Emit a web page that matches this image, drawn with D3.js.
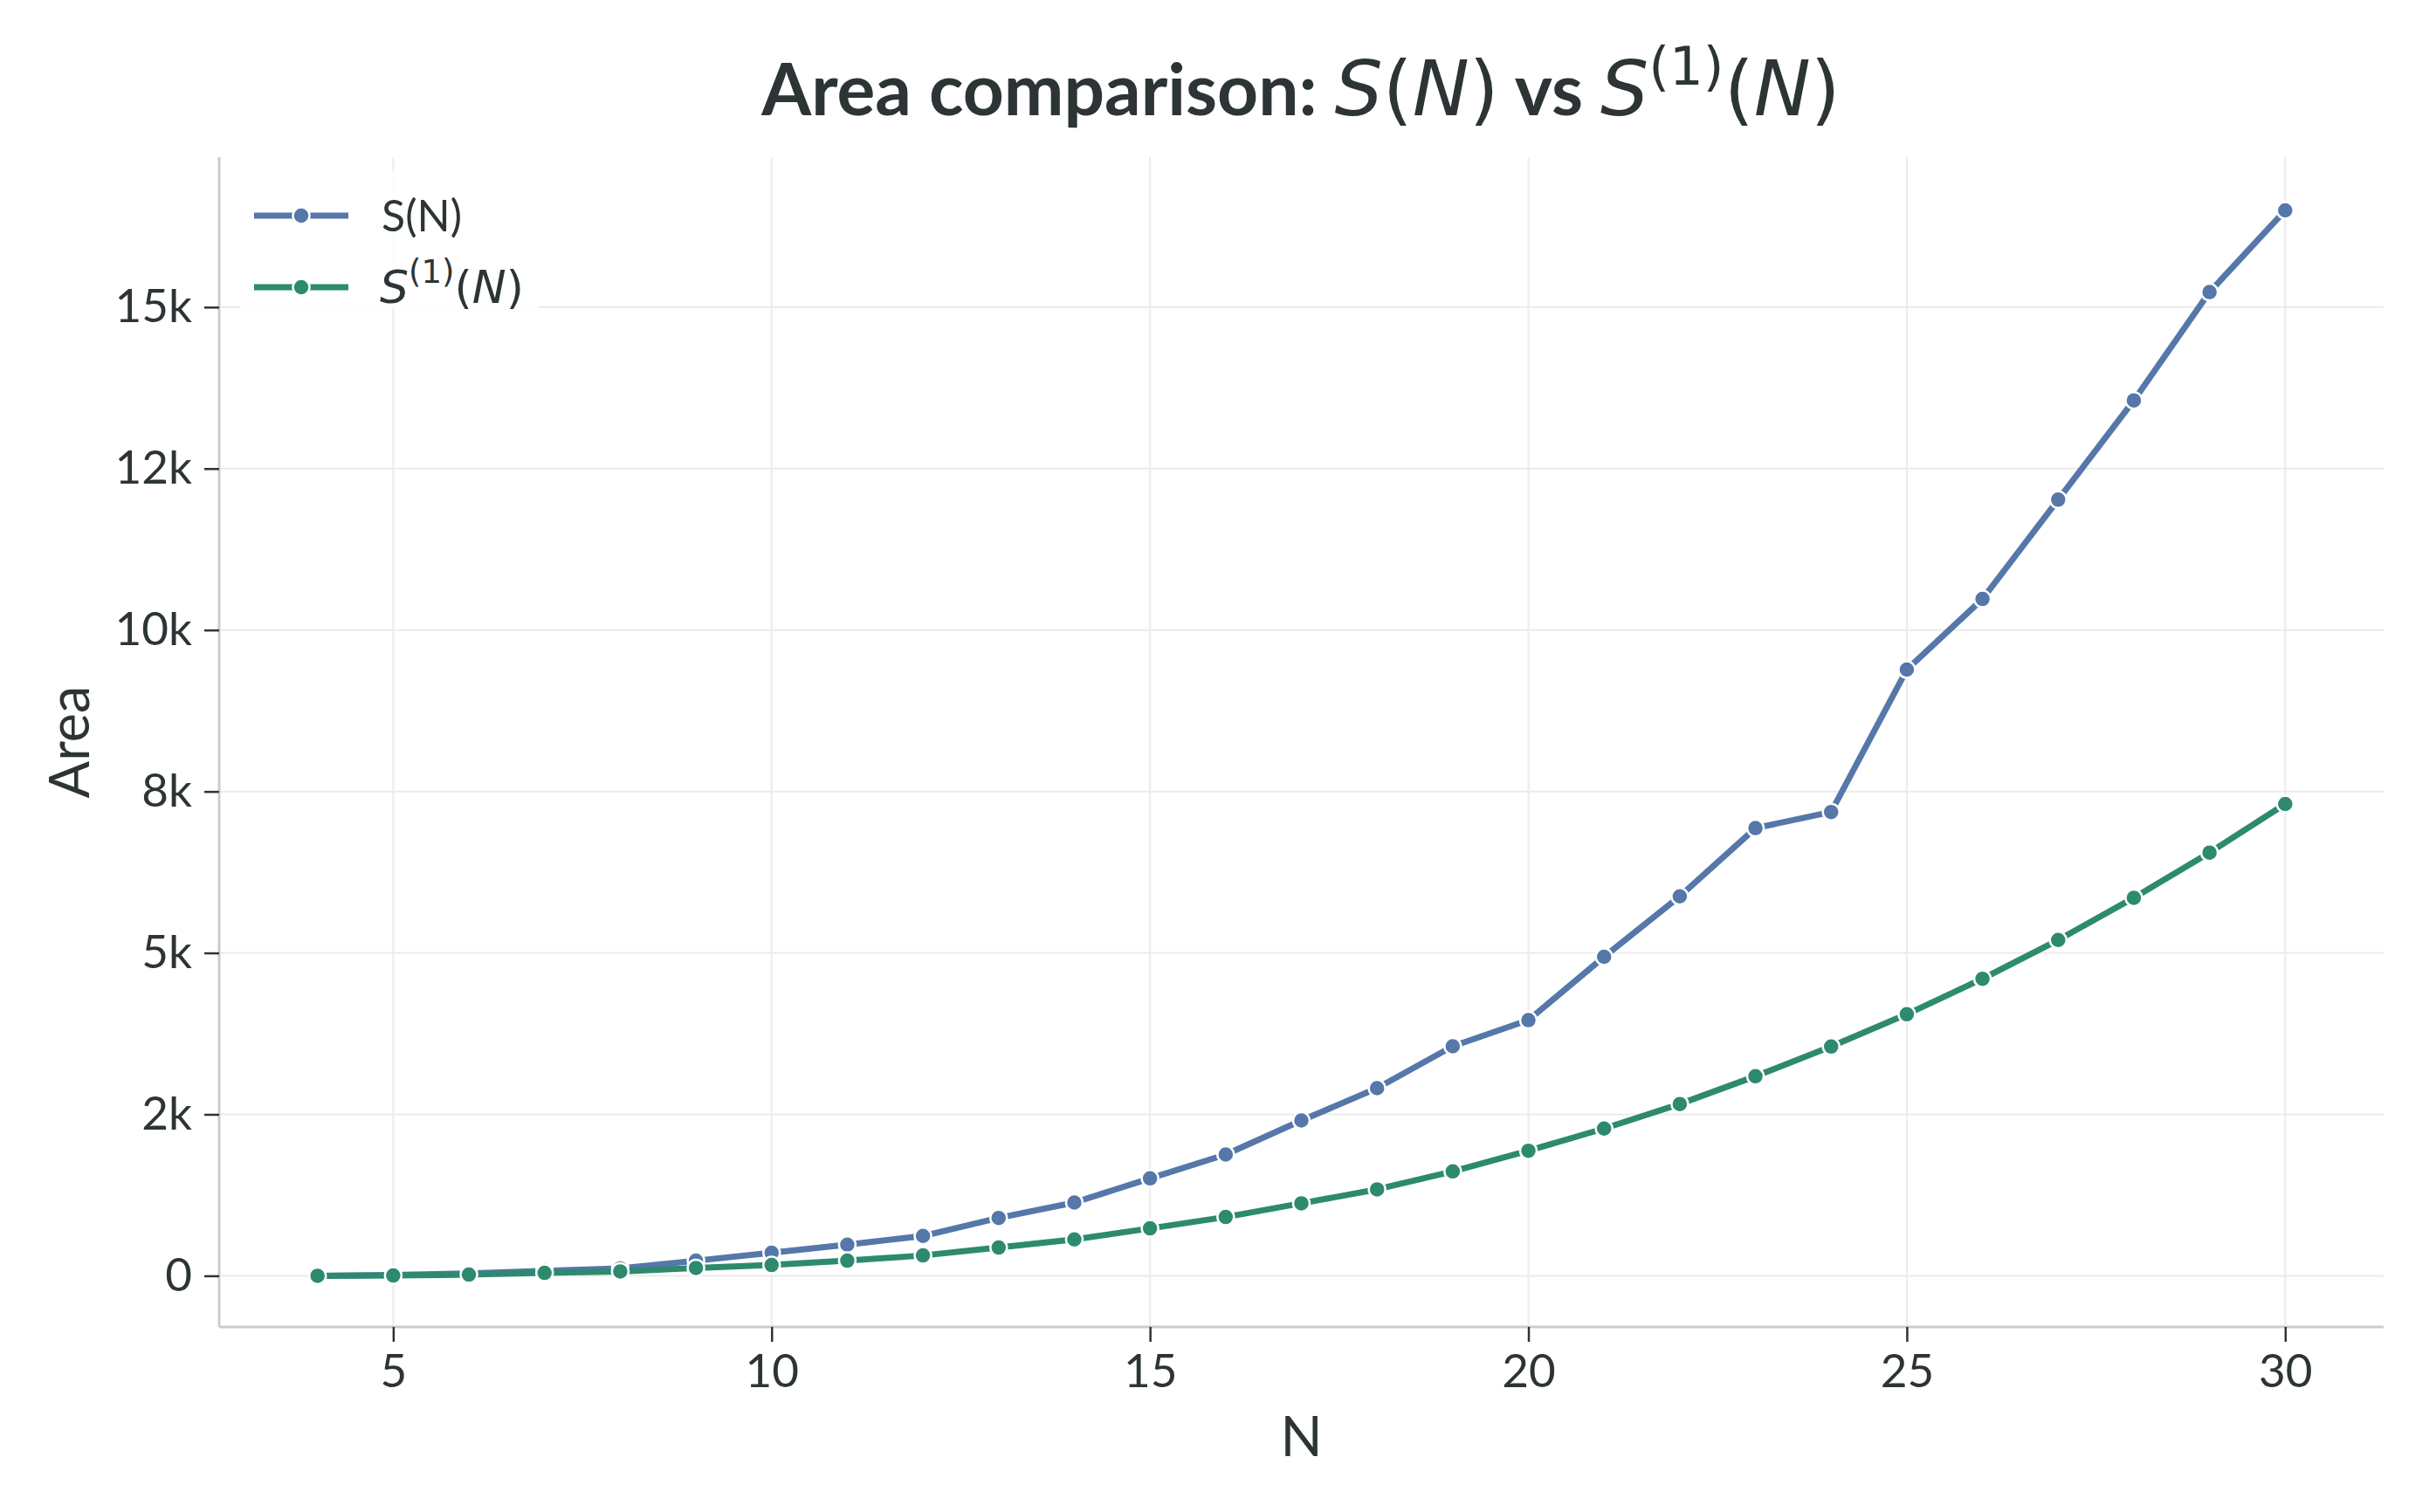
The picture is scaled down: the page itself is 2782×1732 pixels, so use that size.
<!DOCTYPE html>
<html>
<head>
<meta charset="utf-8">
<script src="https://cdn.jsdelivr.net/npm/d3@7"></script>
<style>
  body { margin: 0; background: #fff; }
  text { fill: #2d3436; }
</style>
</head>
<body>
<svg id="chart" width="2782" height="1732"></svg>
<script>
// data
var nValues = [4, 5, 6, 7, 8, 9, 10, 11, 12, 13, 14, 15, 16, 17, 18, 19, 20, 21, 22, 23, 24, 25, 26, 27, 28, 29, 30];
var sValues = [0, 14, 36, 77, 115, 234, 356, 482, 617, 896, 1135, 1509, 1878, 2405, 2905, 3554, 3959, 4940, 5876, 6933, 7182, 9387, 10481, 12019, 13556, 15233, 16498];
var s1Values = [0, 5, 18, 45, 68, 122, 167, 234, 315, 437, 563, 734, 910, 1122, 1338, 1617, 1937, 2280, 2660, 3090, 3550, 4050, 4600, 5200, 5854, 6553, 7306];
var xTicks = [5, 10, 15, 20, 25, 30];
var yTicks = [0, 2500, 5000, 7500, 10000, 12500, 15000];
var yTickLabels = ["0", "2k", "5k", "8k", "10k", "12k", "15k"];

var blue = "#5577a9", green = "#2d8a6e";
var box = {left: 251, right: 2730, top: 180, bottom: 1520};

var svg = d3.select("#chart");

// matplotlib-like 5% margins
var xPad = (d3.max(nValues) - d3.min(nValues)) * 0.05;
var allY = sValues.concat(s1Values);
var yPad = (d3.max(allY) - d3.min(allY)) * 0.05;

var x = d3.scaleLinear()
    .domain([d3.min(nValues) - xPad, d3.max(nValues) + xPad])
    .range([box.left, box.right]);
var y = d3.scaleLinear()
    .domain([d3.min(allY) - yPad * 0.96, d3.max(allY) + yPad])
    .range([box.bottom, box.top]);

// grid
svg.append("g").selectAll("line").data(xTicks).enter().append("line")
    .attr("x1", d => x(d)).attr("x2", d => x(d))
    .attr("y1", box.top).attr("y2", box.bottom)
    .attr("stroke", "#ebebeb").attr("stroke-width", 2);
svg.append("g").selectAll("line").data(yTicks).enter().append("line")
    .attr("x1", box.left).attr("x2", box.right)
    .attr("y1", d => y(d)).attr("y2", d => y(d))
    .attr("stroke", "#ebebeb").attr("stroke-width", 2);

// axes
var xAxis = svg.append("g")
    .attr("transform", "translate(0," + box.bottom + ")")
    .call(d3.axisBottom(x).tickValues(xTicks).tickSize(17).tickPadding(14));
var yAxis = svg.append("g")
    .attr("transform", "translate(" + box.left + ",0)")
    .call(d3.axisLeft(y).tickValues(yTicks).tickSize(17).tickPadding(14)
        .tickFormat((d, i) => yTickLabels[i]));

[xAxis, yAxis].forEach(function(ax) {
    ax.select(".domain").attr("stroke", "#cccccc").attr("stroke-width", 3);
    ax.selectAll(".tick line").attr("stroke", "#2d3436").attr("stroke-width", 2.5);
    ax.selectAll(".tick text")
        .style("font-family", "Lato").style("font-size", "53px").attr("fill", "#2d3436");
});
xAxis.select(".domain").attr("d", "M" + box.left + ",0H" + box.right);
yAxis.select(".domain").attr("d", "M0," + box.top + "V" + box.bottom);

// series
var series = [
    {name: "S", values: sValues, color: blue},
    {name: "S1", values: s1Values, color: green}
];

var line = d3.line()
    .x((d, i) => x(nValues[i]))
    .y(d => y(d));

series.forEach(function(s) {
    svg.append("path")
        .datum(s.values)
        .attr("d", line)
        .attr("fill", "none")
        .attr("stroke", s.color)
        .attr("stroke-width", 7)
        .attr("stroke-linejoin", "round");
    svg.append("g").selectAll("circle").data(s.values).enter().append("circle")
        .attr("cx", (d, i) => x(nValues[i]))
        .attr("cy", d => y(d))
        .attr("r", 9.5)
        .attr("fill", s.color)
        .attr("stroke", "#fff")
        .attr("stroke-width", 2.5);
});

// math-ish text: italic letters, upright brackets and digits
var mathParts = function(sel, size, supSize) {
    return function(txt, italic, dy, small) {
        sel.append("tspan")
            .style("font-family", "DejaVu Sans").style("font-weight", "normal")
            .style("font-style", italic ? "italic" : "normal")
            .style("font-size", (small ? supSize : size) + "px")
            .attr("dy", dy || 0)
            .text(txt);
    };
};

// legend
var legend = svg.append("g");
legend.append("rect")
    .attr("x", 275).attr("y", 196).attr("width", 342).attr("height", 158)
    .attr("fill", "#fff").attr("fill-opacity", 0.85);

var legendRows = [{color: blue, y: 247}, {color: green, y: 329}];
legendRows.forEach(function(r) {
    legend.append("line")
        .attr("x1", 291).attr("x2", 399).attr("y1", r.y).attr("y2", r.y)
        .attr("stroke", r.color).attr("stroke-width", 7);
    legend.append("circle")
        .attr("cx", 345).attr("cy", r.y).attr("r", 9.5)
        .attr("fill", r.color).attr("stroke", "#fff").attr("stroke-width", 2.5);
});

legend.append("text")
    .attr("x", 437).attr("y", 247).attr("dy", "0.35em")
    .style("font-family", "Lato").style("font-size", "50px")
    .text("S(N)");

var lt = legend.append("text").attr("x", 435).attr("y", 347);
var lm = mathParts(lt, 52, 37);
lm("S", true);
lm("(1)", false, -23, true);
lm("(", false, 23);
lm("N", true);
lm(")", false);

// axis labels
svg.append("text")
    .attr("x", (box.left + box.right) / 2).attr("y", 1668)
    .attr("text-anchor", "middle")
    .style("font-family", "Lato").style("font-size", "63px")
    .text("N");

svg.append("text")
    .attr("transform", "translate(102," + ((box.top + box.bottom) / 2) + ") rotate(-90)")
    .attr("text-anchor", "middle")
    .style("font-family", "Lato").style("font-size", "63px")
    .text("Area");

// title
var title = svg.append("text")
    .attr("x", 1490).attr("y", 132)
    .attr("text-anchor", "middle")
    .style("font-family", "Lato").style("font-size", "82px").style("font-weight", "bold");
title.append("tspan").text("Area comparison: ");
var tm = mathParts(title, 87, 61);
tm("S", true);
tm("(", false);
tm("N", true);
tm(")", false);
title.append("tspan").text(" vs ");
tm("S", true);
tm("(1)", false, -35, true);
tm("(", false, 35);
tm("N", true);
tm(")", false);
</script>
</body>
</html>
